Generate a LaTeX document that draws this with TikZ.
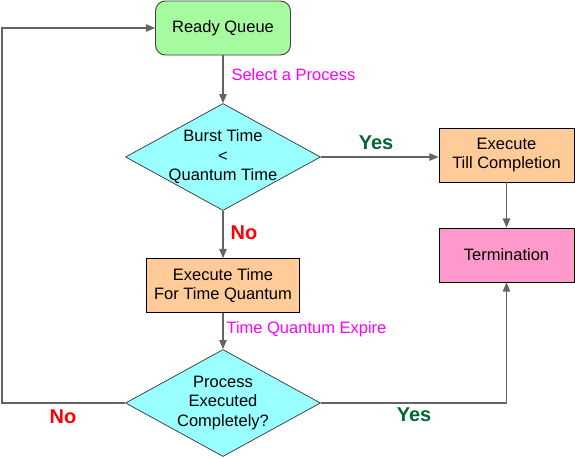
\documentclass[tikz,border=0pt]{standalone}
\usepackage{fontspec}
\setmainfont{Liberation Sans}
\usetikzlibrary{shapes.geometric, arrows}
\definecolor{readygreen}{RGB}{166,251,160}
\definecolor{decisioncyan}{RGB}{153,255,255}
\definecolor{execorange}{RGB}{255,204,153}
\definecolor{termpink}{RGB}{255,153,204}
\definecolor{labelmagenta}{RGB}{255,0,255}
\definecolor{yesgreen}{RGB}{0,102,51}
\definecolor{nored}{RGB}{255,0,0}
\definecolor{linegray}{RGB}{100,100,100}
\tikzstyle{startstop} = [rectangle, rounded corners=10pt, minimum width=135pt, minimum height=54pt, draw=black!75, fill=readygreen, line width=0.9pt]
\tikzstyle{process} = [rectangle, minimum height=54pt, draw=black, fill=execorange, line width=0.9pt, align=center]
\tikzstyle{decision} = [diamond, shape aspect=1.82, minimum width=195pt, minimum height=107pt, inner sep=-6pt, draw=black!80, fill=decisioncyan, line width=0.7pt, align=center]
\tikzstyle{arrow} = [line width=1.1pt, draw=linegray, ->, >=triangle 45]
\tikzstyle{flowlabel} = [anchor=west, text=labelmagenta]
\tikzstyle{answer} = [font=\fontsize{20}{24}\selectfont\bfseries]

\begin{document}
\begin{tikzpicture}[x=1pt, y=-1pt, font=\fontsize{16.5}{19.5}\selectfont]
\useasboundingbox (0,0) rectangle (575,458);

\node (ready) [startstop] at (223,28) {Ready Queue};
\node (burst) [decision] at (223,157) {Burst Time\\<\\Quantum Time};
\node (till) [process, minimum width=135pt] at (506.5,155) {Execute\\Till Completion};
\node (term) [process, minimum width=135pt, fill=termpink] at (506.5,255) {Termination};
\node (slice) [process, minimum width=153pt] at (223,285.5) {Execute Time\\For Time Quantum};
\node (done) [decision] at (223,403) {Process\\Executed\\Completely?};
\coordinate (backbottom) at (2,403);
\coordinate (backtop) at (2,28);

% labels
\node (select) [flowlabel] at (228,75) {Select a Process};
\node (expire) [flowlabel] at (223,329) {Time Quantum Expire};
\node (yesone) [answer, text=yesgreen] at (376,143) {Yes};
\node (noone) [answer, text=nored] at (244,233) {No};
\node (notwo) [answer, text=nored] at (63,417) {No};
\node (yestwo) [answer, text=yesgreen] at (414,415) {Yes};

\draw [arrow] (ready) -- (burst);
\draw [arrow] (burst.east) -- (burst.east -| till.west);
\draw [arrow] (burst) -- (slice);
\draw [arrow] (slice) -- (done);
\draw [arrow] (till) -- (term);
\draw [arrow] (done.east) -| (term);
\draw [arrow] (done.west) -- (backbottom) -- (backtop) -- (ready.west |- backtop);

\end{tikzpicture}
\end{document}
